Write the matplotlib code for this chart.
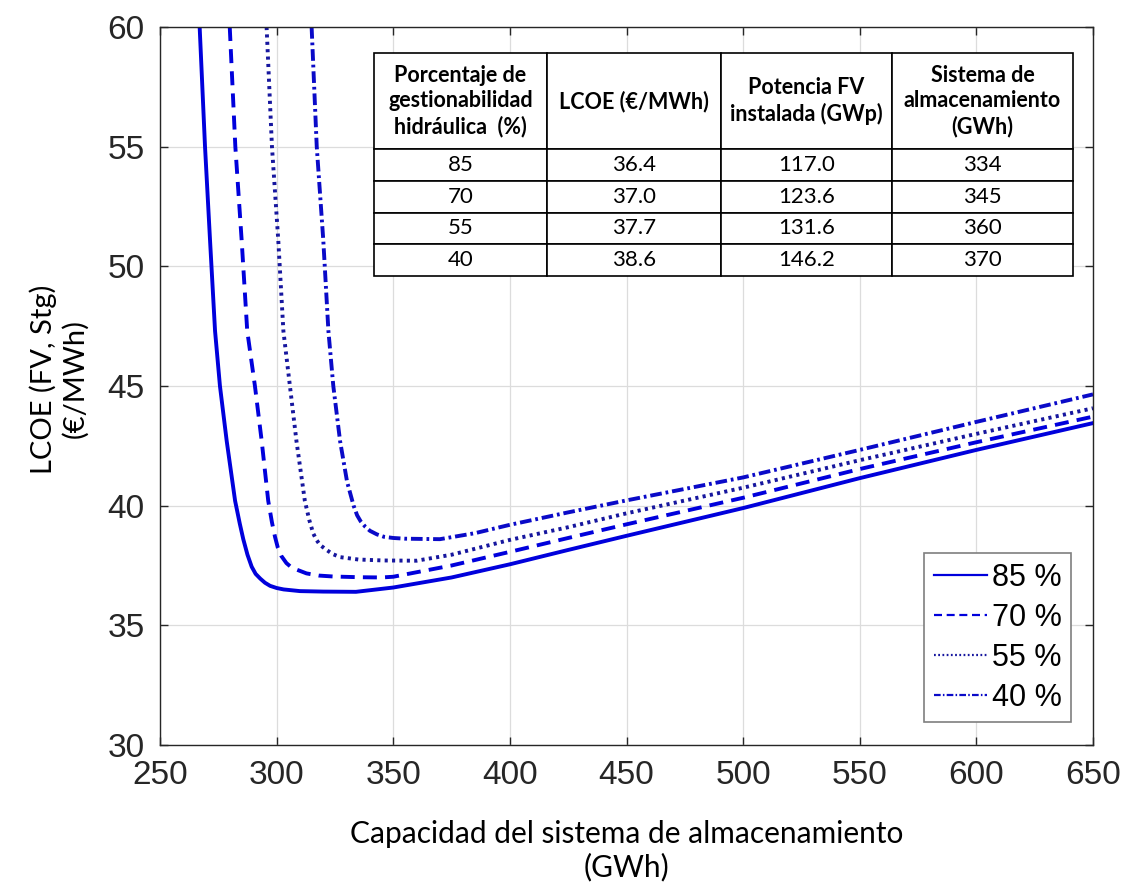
import numpy as np
import matplotlib.pyplot as plt

# Curvas LCOE frente a capacidad de almacenamiento (GWh, €/MWh)
x_85 = [267.0, 269.3, 271.5, 273.6, 275.7, 278.6, 282.2, 284.2, 285.7, 287.5, 289.3,
        291.0, 293.0, 295.0, 297.2, 300.0, 303.0, 310.0, 320.0, 334.0, 350.0, 375.0,
        400.0, 425.0, 450.0, 500.0, 550.0, 600.0, 650.0]
y_85 = [60.0, 55.0, 51.0, 47.3, 45.0, 42.7, 40.2, 39.25, 38.6, 37.95, 37.45,
        37.15, 36.95, 36.78, 36.65, 36.56, 36.5, 36.43, 36.41, 36.4, 36.58, 37.0,
        37.55, 38.15, 38.74, 39.9, 41.15, 42.33, 43.45]

x_70 = [279.9, 282.3, 285.0, 287.4, 290.7, 293.6, 296.4, 298.0, 299.3, 300.5, 302.0,
        304.2, 306.0, 308.0, 312.8, 318.0, 324.3, 335.7, 345.0, 350.0, 375.0, 400.0,
        425.0, 450.0, 500.0, 550.0, 600.0, 650.0]
y_70 = [60.0, 55.0, 51.1, 47.3, 45.0, 42.7, 40.2, 39.3, 38.7, 38.25, 37.9,
        37.6, 37.45, 37.35, 37.17, 37.08, 37.04, 37.01, 37.0, 37.03, 37.5, 38.07,
        38.65, 39.22, 40.33, 41.53, 42.65, 43.72]

x_55 = [295.7, 298.0, 300.7, 302.9, 305.7, 308.5, 312.1, 314.0, 315.7, 317.0, 318.6,
        321.4, 324.0, 327.2, 335.0, 345.8, 360.0, 375.0, 400.0, 425.0, 450.0, 500.0,
        550.0, 600.0, 650.0]
y_55 = [60.0, 55.0, 51.1, 47.3, 45.0, 42.7, 40.2, 39.4, 38.84, 38.58, 38.36,
        38.15, 37.98, 37.85, 37.75, 37.71, 37.7, 37.95, 38.57, 39.1, 39.68, 40.75,
        41.9, 43.0, 44.07]

x_40 = [315.0, 317.2, 320.0, 322.2, 324.3, 327.2, 330.2, 333.0, 334.5, 336.0, 338.0,
        340.0, 343.0, 346.0, 350.0, 355.0, 370.0, 385.0, 400.0, 425.0, 450.0, 500.0,
        550.0, 600.0, 650.0]
y_40 = [60.0, 55.0, 51.1, 47.3, 45.0, 42.7, 41.0, 40.0, 39.6, 39.35, 39.12,
        38.95, 38.8, 38.7, 38.65, 38.62, 38.6, 38.85, 39.2, 39.72, 40.22, 41.18,
        42.33, 43.5, 44.65]

# Datos de la tabla de óptimos
gestionabilidad = [85, 70, 55, 40]
lcoe_opt = [36.4, 37.0, 37.7, 38.6]
potencia_fv = [117.0, 123.6, 131.6, 146.2]
almacenamiento = [334, 345, 360, 370]

encabezados = ['Porcentaje de\ngestionabilidad\nhidráulica  (%)', 'LCOE (€/MWh)',
               'Potencia FV\ninstalada (GWp)', 'Sistema de\nalmacenamiento\n(GWh)']

azul = '#0000dc'
texto = '#262626'

fig = plt.figure(figsize=(11.28, 8.92), dpi=100)
ax = fig.add_axes([160 / 1128, 147 / 892, 933 / 1128, 718 / 892])

series = [
    (x_85, y_85, '85 %', dict(linestyle='-', color=azul)),
    (x_70, y_70, '70 %', dict(linestyle=(0, (3.6, 2.1)), color=azul)),
    (x_55, y_55, '55 %', dict(linestyle=(0, (0.8, 1.1)), color='#16169e')),
    (x_40, y_40, '40 %', dict(linestyle=(0, (3.0, 1.0, 0.7, 1.0)), color='#0a0ac8')),
]
for xs, ys, lab, estilo in series:
    ax.plot(xs, ys, lw=2.8, label=lab, dash_capstyle='butt', **estilo)

ax.set_xlim(250, 650)
ax.set_ylim(30, 60)
ax.set_xticks(np.arange(250, 651, 50))
ax.set_yticks(np.arange(30, 61, 5))
ax.grid(True, color='#dcdcdc', lw=0.9)
ax.set_axisbelow(True)
for s in ax.spines.values():
    s.set_color(texto)
    s.set_linewidth(1.0)
ax.tick_params(direction='in', top=True, right=True, length=6, width=1.0,
               colors=texto, labelsize=24, pad=11)
for t in ax.get_xticklabels() + ax.get_yticklabels():
    t.set_fontfamily('Liberation Sans')

ax.set_xlabel('Capacidad del sistema de almacenamiento\n(GWh)', fontsize=21.5,
              fontfamily='Lato', color='black', linespacing=1.2)
ax.xaxis.set_label_coords(0.5, -0.105)
ax.set_ylabel('LCOE (FV, Stg)\n(€/MWh)', fontsize=21, fontfamily='Lato',
              color='black', linespacing=1.2)
ax.yaxis.set_label_coords(-0.077, 0.51)

leg = ax.legend(loc='lower right', bbox_to_anchor=(0.976, 0.032), borderaxespad=0,
                fancybox=False, framealpha=1, edgecolor='#7f7f7f',
                prop={'family': 'Liberation Sans', 'size': 22},
                handlelength=1.75, handletextpad=0.15, labelspacing=0.33,
                borderpad=0.3)
leg.get_frame().set_linewidth(1.2)
for h in leg.get_lines():
    h.set_linewidth(1.6)

# Tabla de resultados óptimos
filas = [[str(g), f'{l:.1f}', f'{p:.1f}', str(a)]
         for g, l, p, a in zip(gestionabilidad, lcoe_opt, potencia_fv, almacenamiento)]
tabla = ax.table(cellText=filas, colLabels=encabezados, cellLoc='center',
                 colWidths=[0.247, 0.249, 0.245, 0.259],
                 bbox=[0.2294, 0.6532, 0.7492, 0.3106], zorder=5)
tabla.auto_set_font_size(False)
for (r, c), celda in tabla.get_celld().items():
    celda.set_height(96 if r == 0 else 31.7)
    celda.set_edgecolor('black')
    celda.set_linewidth(1.2)
    celda.set_facecolor('white')
    celda.get_text().set_fontfamily('Lato')
    if r == 0:
        celda.get_text().set_fontsize(15.5)
        celda.get_text().set_fontweight('bold')
        celda.get_text().set_linespacing(1.25)
    else:
        celda.get_text().set_fontsize(16)

fig.savefig('out.png', dpi=100, facecolor='white')
